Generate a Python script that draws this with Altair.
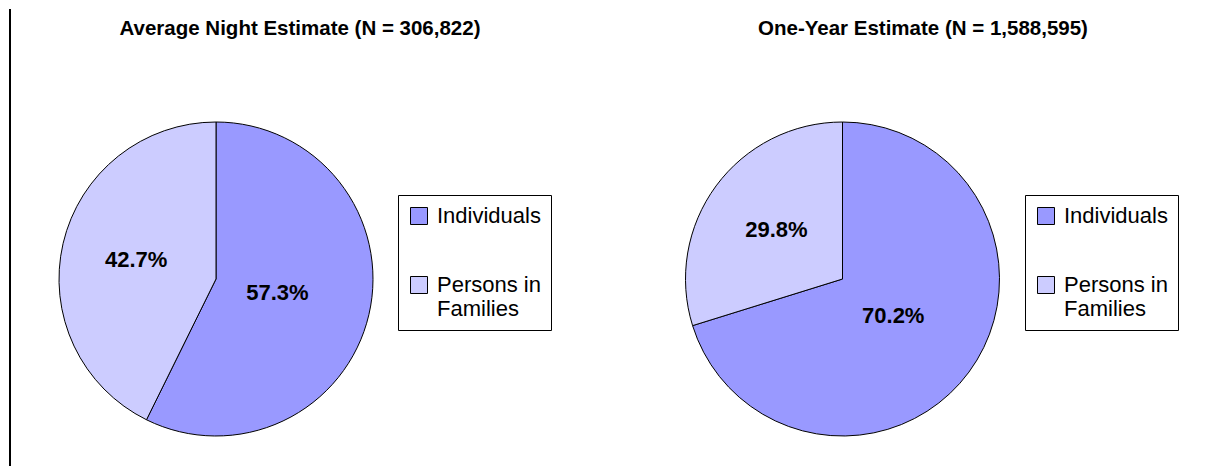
import altair as alt
import pandas as pd

categories = ["Individuals", "Persons in Families"]
night_share = [57.3, 42.7]
year_share = [70.2, 29.8]
panel_titles = ["Average Night Estimate (N = 306,822)", "One-Year Estimate (N = 1,588,595)"]
colors = ["#9999FF", "#CCCCFF"]

FONT = "Liberation Sans"
H = 450
TOP = -8


def panel(values, title, width, cx, cy, title_x, legend_x, border=False):
    df = pd.DataFrame({"category": categories, "share": values})
    df["label"] = [f"{v:.1f}%" for v in values]
    color = alt.Color(
        "category:N",
        scale=alt.Scale(domain=categories, range=colors),
        legend=alt.Legend(
            title=None,
            orient="none",
            legendX=legend_x,
            legendY=178,
            direction="vertical",
            symbolType="square",
            symbolSize=289,
            symbolStrokeColor="black",
            symbolStrokeWidth=1,
            symbolOpacity=1,
            labelFont=FONT,
            labelFontSize=22,
            labelColor="black",
            labelLimit=300,
            labelOffset=7,
            labelBaseline="middle",
            strokeColor="black",
            fillColor="white",
            padding=10,
            rowPadding=47,
            labelExpr="datum.label == 'Persons in Families' ? ['Persons in', 'Families'] : datum.label",
        ),
    )
    arcs = alt.Chart(df).mark_arc(outerRadius=157, stroke="black", strokeWidth=1).encode(
        theta=alt.Theta("share:Q", stack=True),
        order=alt.Order("category:N", sort="ascending"),
        color=color,
        x=alt.value(cx),
        y=alt.value(cy),
    )
    labels = (
        alt.Chart(df)
        .transform_joinaggregate(total="sum(share)")
        .transform_window(
            cum="sum(share)",
            sort=[alt.SortField("category", order="ascending")],
            frame=[None, 0],
        )
        .transform_calculate(
            mid="(datum.cum - datum.share / 2) / datum.total",
            r=f"datum.category == '{categories[0]}' ? 63 : 82",
        )
        .mark_text(font=FONT, fontSize=22, fontWeight="bold", color="black")
        .encode(
            theta=alt.Theta("mid:Q", stack=None,
                            scale=alt.Scale(domain=[0, 1], range=[0, 6.283185307179586])),
            radius=alt.Radius("r:Q", scale=None),
            text="label:N",
            x=alt.value(cx),
            y=alt.value(cy),
        )
    )
    ttl = alt.Chart(pd.DataFrame({"t": [title]})).mark_text(
        font=FONT, fontSize=20.5, fontWeight="bold", color="black"
    ).encode(text="t:N", x=alt.value(title_x), y=alt.value(12))
    layers = [arcs, labels, ttl]
    if border:
        rule = alt.Chart(pd.DataFrame({"t": [title]})).mark_rule(
            color="black", strokeWidth=2
        ).encode(x=alt.value(2), y=alt.value(TOP), y2=alt.value(H))
        layers.append(rule)
    return (
        alt.layer(*layers)
        .resolve_scale(theta="independent")
        .properties(width=width, height=H)
    )


left = panel(night_share, panel_titles[0], 610, 208, 262, 292, 390, border=True)
right = panel(year_share, panel_titles[1], 588, 224.5, 262, 305, 407)

chart = (
    alt.hconcat(left, right, spacing=0)
    .resolve_scale(color="independent", theta="independent")
    .properties(padding=0)
    .configure_view(stroke=None)
)

chart.save("out.html", embed_options={"renderer": "svg", "actions": False})
